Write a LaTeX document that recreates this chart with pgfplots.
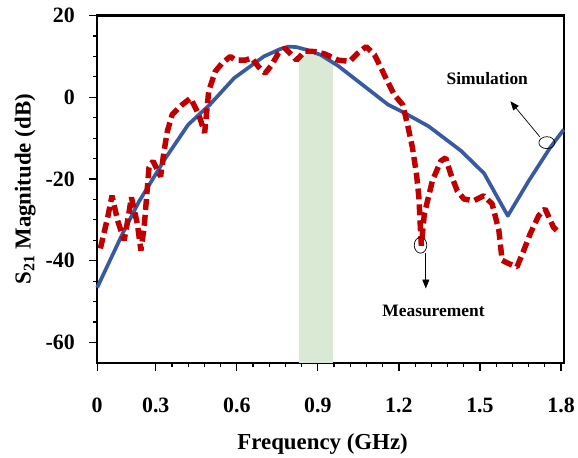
\documentclass[border=0pt]{standalone}
\usepackage{fontspec}
\setmainfont{Liberation Serif}
\usepackage{pgfplots}
\pgfplotsset{compat=1.18}
\usetikzlibrary{arrows.meta}
\definecolor{simblue}{RGB}{55,90,160}
\definecolor{measred}{RGB}{192,0,0}
\definecolor{bandgreen}{RGB}{218,233,212}

\begin{document}
\begin{tikzpicture}
\begin{axis}[
  width=469.6pt, height=349.3pt, scale only axis,
  xmin=0.083, xmax=1.811, ymin=-65, ymax=20,
  xtick={0.083,0.3,0.6,0.9,1.2,1.5,1.8},
  xticklabels={0,0.3,0.6,0.9,1.2,1.5,1.8},
  minor xtick={0.36,0.42,0.48,0.54,0.66,0.72,0.78,0.84,0.96,1.02,1.08,1.14,1.26,1.32,1.38,1.44,1.56,1.62,1.68,1.74},
  ytick={-60,-40,-20,0,20},
  minor ytick={-55,-50,-45,-35,-30,-25,-15,-10,-5,5,10,15},
  xtick pos=bottom, ytick pos=left,
  tick align=outside,
  major tick length=8pt, minor tick length=4pt,
  every tick/.style={black, line width=1.2pt},
  axis line style={line width=2.5pt},
  /pgf/number format/assume math mode=true,
  ticklabel style={font=\fontsize{22}{22}\selectfont\bfseries},
  xticklabel style={yshift=-24pt},
  yticklabel style={xshift=-11pt},
  xlabel={Frequency (GHz)},
  ylabel={S\textsubscript{21} Magnitude (dB)},
  label style={font=\fontsize{23}{23}\selectfont\bfseries},
  xlabel style={yshift=-14pt, xshift=-8pt},
  ylabel style={yshift=3pt},
  clip=false,
]
% frequency band shading
\addplot[fill=bandgreen, draw=none, forget plot] coordinates {
 (0.83,-65) (0.83,10.4) (0.91,10.4) (0.956,8.5) (0.956,-65)} -- cycle;

% simulation
\addplot[simblue, line width=3.7pt, line join=round] coordinates {
 (0.083,-46.6) (0.177,-33.4) (0.238,-25.5) (0.30,-18.8) (0.337,-14.8)
 (0.42,-6.7) (0.50,-1.8) (0.59,4.7) (0.70,10.0) (0.76,11.8) (0.79,12.4)
 (0.82,12.3) (0.86,11.6) (0.91,10.4) (0.975,7.7) (1.16,-1.8) (1.22,-3.8)
 (1.31,-7.1) (1.43,-13.1) (1.515,-18.6) (1.603,-29.0) (1.68,-20.5)
 (1.76,-12.3) (1.81,-7.9)};

% measurement
\addplot[measred, line width=5.5pt, line join=bevel, dash pattern=on 11pt off 5pt] coordinates {
 (0.095,-37) (0.122,-29.4) (0.138,-24.1) (0.159,-30.2) (0.183,-35.0)
 (0.195,-30.6) (0.21,-24.5) (0.232,-31.0) (0.245,-37.5) (0.257,-31.8)
 (0.269,-22.1) (0.275,-17.2) (0.29,-15.6) (0.318,-19.4) (0.33,-13.5)
 (0.343,-8.3) (0.361,-4.2) (0.398,-1.8) (0.429,-0.2) (0.459,-4.2)
 (0.481,-8.7) (0.49,-2.6) (0.496,1.5) (0.52,6.3) (0.545,8.3) (0.576,10.0)
 (0.594,9.1) (0.631,9.1) (0.655,9.6) (0.68,7.5) (0.705,5.9) (0.729,7.9)
 (0.754,10.8) (0.778,12.0) (0.803,10.4) (0.821,9.1) (0.852,11.3)
 (0.889,11.2) (0.926,10.6) (0.975,9.1) (1.018,8.8) (1.048,10.8)
 (1.079,12.4) (1.11,10.4) (1.146,5.5) (1.183,0.6) (1.214,-1.8)
 (1.232,-6.7) (1.25,-12.3) (1.265,-18.8) (1.274,-24.5) (1.28,-32.6)
 (1.283,-36.3) (1.294,-28.6) (1.324,-20.4) (1.355,-15.6) (1.373,-14.8)
 (1.392,-18.8) (1.416,-22.9) (1.441,-24.9) (1.477,-25.3) (1.514,-24.1)
 (1.545,-26.1) (1.57,-32.6) (1.582,-39.9) (1.606,-40.7) (1.637,-41.5)
 (1.662,-37.5) (1.686,-33.4) (1.717,-29.0) (1.741,-27.3) (1.772,-31.8)
 (1.784,-32.6)};

% annotations
\node[font=\fontsize{17.5}{17.5}\selectfont\bfseries] at (axis cs:1.527,4.7) {Simulation};
\draw[line width=0.7pt] (axis cs:1.7475,-11.1) ellipse [x radius=8pt, y radius=6pt];
\draw[line width=0.7pt, -{Triangle[length=9pt,width=7pt]}] (axis cs:1.722,-9.7) -- (axis cs:1.6125,-0.97);
\node[font=\fontsize{17.5}{17.5}\selectfont\bfseries] at (axis cs:1.328,-52.2) {Measurement};
\draw[line width=0.7pt] (axis cs:1.28,-36.2) ellipse [x radius=6.3pt, y radius=8pt];
\draw[line width=0.7pt, -{Triangle[length=9pt,width=7pt]}] (axis cs:1.2996,-38.1) -- (axis cs:1.2996,-46.8);

\coordinate (SW) at (rel axis cs:0,0);
\coordinate (NE) at (rel axis cs:1,1);
\end{axis}
\path ([shift={(-97.7pt,-93pt)}]SW) rectangle ([shift={(10.7pt,15.7pt)}]NE);
\end{tikzpicture}
\end{document}
